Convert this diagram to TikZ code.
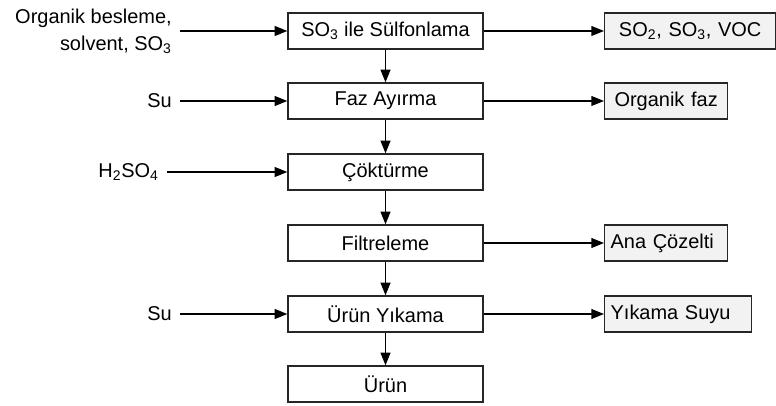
\documentclass[tikz,border=0pt]{standalone}
\usepackage{fontspec}
\setmainfont{Liberation Sans}
\usetikzlibrary{arrows.meta}
\definecolor{boxgray}{HTML}{F2F2F2}
\colorlet{edgegray}{black!85}

\begin{document}
\begin{tikzpicture}[x=0.025cm,y=-0.025cm,font=\fontsize{14.2}{19}\selectfont,
  >={Triangle[length=9pt,width=7pt]}]
\tikzset{StepBox/.style ={draw=edgegray, line width=0.9pt, minimum width=4.875cm, minimum height=0.9cm, inner sep=0pt}}
\tikzset{OutBox/.style ={StepBox, fill=boxgray, minimum width=0pt, anchor=west, inner xsep=0.15cm, text width=#1}}
\tikzset{InNote/.style ={anchor=east, align=right, inner xsep=5.7pt, inner ysep=0pt}}
\tikzset{EdgeStyle/.style ={->, line width=1pt}}
\useasboundingbox (0,0) rectangle (776,406);
\node[StepBox] (sulf) at (385.5,31) {SO\textsubscript{3} ile Sülfonlama};
\node[StepBox] (faz) at (385.5,101) {Faz Ayırma};
\node[StepBox] (cok) at (385.5,172) {Çöktürme};
\node[StepBox] (filt) at (385.5,243) {Filtreleme};
\node[StepBox] (yika) at (385.5,314) {Ürün Yıkama};
\node[StepBox] (urun) at (385.5,384) {Ürün};
\node[InNote] (inOrg) at (180,31) {Organik besleme,\\ solvent, SO\textsubscript{3}};
\node[InNote] (inSu1) at (180,101) {Su};
\node[InNote] (inAcid) at (167,172) {H\textsubscript{2}SO\textsubscript{4}};
\node[InNote] (inSu2) at (180,314) {Su};
\node[OutBox=3.975cm, align=center] (outGas) at (604,31) {SO\textsubscript{2}, SO\textsubscript{3}, VOC};
\node[OutBox=2.775cm, align=center] (outOrg) at (604,101) {Organik faz};
\node[OutBox=2.775cm, align=left] (outAna) at (604,243) {Ana Çözelti};
\node[OutBox=3.375cm, align=left] (outYika) at (604,314) {Yıkama Suyu};
\foreach \a/\b in {sulf/faz, faz/cok, cok/filt, filt/yika, yika/urun}
  \draw[EdgeStyle] (\a) -- (\b);
\draw[EdgeStyle] (inOrg) -- (sulf);
\draw[EdgeStyle] (inSu1) -- (faz);
\draw[EdgeStyle] (inAcid) -- (cok);
\draw[EdgeStyle] (inSu2) -- (yika);
\draw[EdgeStyle] (sulf) -- (outGas);
\draw[EdgeStyle] (faz) -- (outOrg);
\draw[EdgeStyle] (filt) -- (outAna);
\draw[EdgeStyle] (yika) -- (outYika);
\end{tikzpicture}
\end{document}
